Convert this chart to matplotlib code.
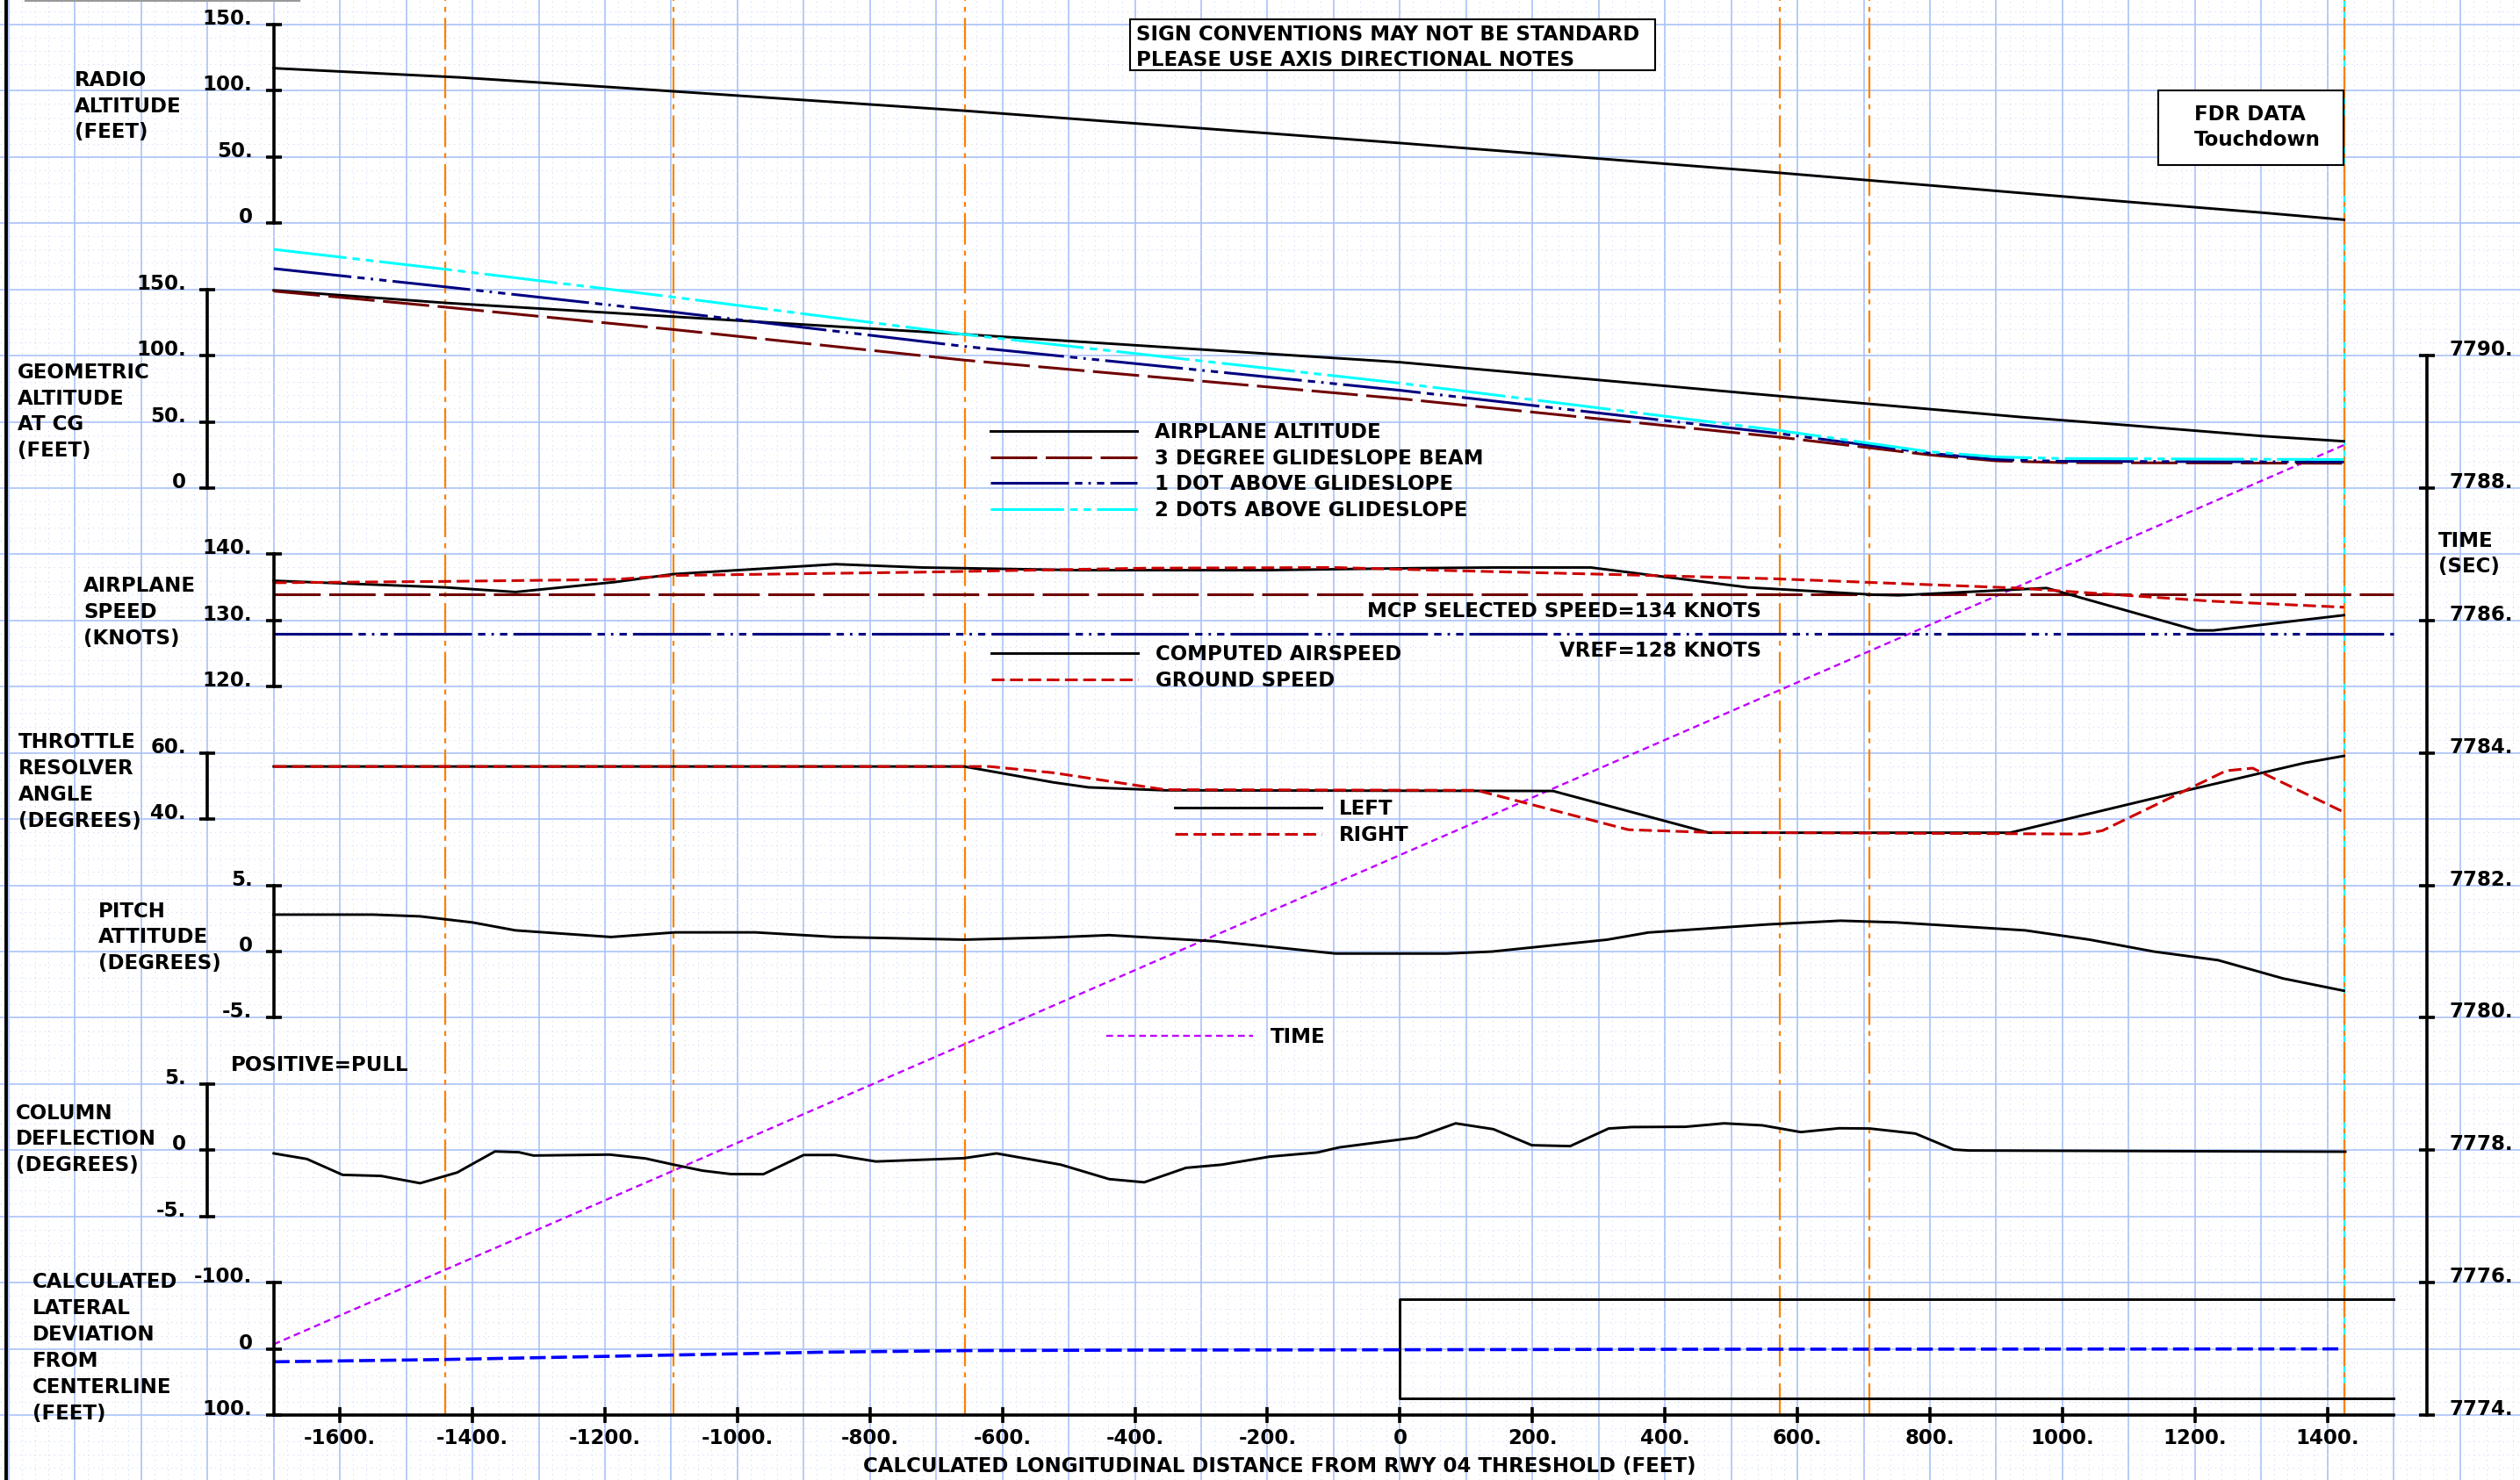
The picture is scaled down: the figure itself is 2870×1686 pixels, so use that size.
import matplotlib
matplotlib.use('Agg')
import matplotlib.pyplot as plt
from matplotlib.lines import Line2D
from matplotlib.patches import Rectangle
from matplotlib.ticker import MultipleLocator

W, H = 2870, 1686

# The whole sheet in data units: feet from the threshold (x), FDR seconds (y)
SHEET_FT = (-2113.2, 1690.7)
SHEET_SEC = (7773.02, 7795.37)

# Radio altitude (feet)
radio_ft = [-1700, -1417, -1185, -655, 0, 537, 935, 1099, 1300, 1425]
radio_alt = [117.0, 110.0, 102.5, 84.8, 60.5, 39.5, 22.9, 16.1, 8.0, 2.6]

# Geometric altitude at CG (feet)
geo_ft = [-1700, -1441, -1185, -655, 0, 537, 935, 1099, 1300, 1425]
airplane_alt = [149.3, 139.8, 132.1, 116.0, 95.0, 71.0, 53.7, 47.4, 39.3, 35.3]
beam_ft = [-1700, -1441, -1097, -658, 0, 573, 798, 900, 1000, 1425]
glideslope = [148.7, 136.6, 119.7, 96.6, 67.5, 38.4, 25.1, 20.5, 19.2, 18.7]
one_dot = [165.7, 151.9, 132.9, 107.0, 73.8, 41.1, 26.4, 21.5, 20.2, 19.7]
two_dots = [180.2, 165.2, 144.2, 116.0, 79.2, 43.4, 27.5, 23.5, 22.3, 21.5]

# Airplane speed (knots)
cas_ft = [-1700, -1441, -1335, -1185, -1097, -852, -721, -485, -201, 22, 140,
          288, 525, 714, 753, 976, 1203, 1228, 1425]
cas_kt = [136.0, 135.0, 134.3, 135.8, 137.0, 138.5, 138.0, 137.6, 137.6, 137.9,
          138.0, 138.0, 135.0, 133.9, 133.8, 134.9, 128.5, 128.5, 130.8]
gnd_ft = [-1700, -1441, -1185, -1097, -721, -383, -100, 90, 339, 565, 932, 1228, 1425]
gnd_kt = [135.7, 135.9, 136.2, 136.8, 137.3, 137.9, 138.0, 137.5, 136.9, 136.3,
          134.9, 132.9, 132.0]
ref_ft = [-1700, 1500]
mcp_speed = 134
vref = 128

# Throttle resolver angle (degrees)
left_ft = [-1700, -658, -523, -470, -355, 231, 466, 921, 1188, 1366, 1425]
left_tra = [55.9, 55.9, 51.1, 49.6, 48.7, 48.5, 35.9, 35.9, 48.7, 57.0, 59.1]
right_ft = [-1700, -620, -523, -355, 116, 345, 466, 1030, 1060, 1247, 1287, 1425]
right_tra = [55.9, 55.9, 54.0, 48.9, 48.7, 36.8, 36.0, 35.5, 36.5, 54.6, 55.4, 42.1]

# Pitch attitude (degrees)
pitch_ft = [-1700, -1550, -1479, -1400, -1335, -1191, -1094, -973, -852, -658,
            -523, -439, -280, -203, -97, 71, 139, 313, 375, 555,
            665, 750, 944, 1041, 1138, 1235, 1333, 1425]
pitch = [2.79, 2.79, 2.66, 2.2, 1.6, 1.1, 1.45, 1.45, 1.1, 0.9,
         1.07, 1.24, 0.78, 0.40, -0.15, -0.15, 0.0, 0.9, 1.44, 2.05,
         2.33, 2.2, 1.6, 0.9, 0.0, -0.65, -2.03, -2.96]

# Column deflection (degrees, positive = pull)
col_ft = [-1700, -1650, -1596, -1538, -1479, -1423, -1366, -1330, -1308, -1193,
          -1139, -1099, -1053, -1010, -961, -900, -852, -791, -658, -609,
          -512, -439, -386, -323, -269, -196, -125, -91, 25, 84,
          141, 199, 257, 315, 350, 431, 489, 547, 605, 663,
          709, 778, 836, 859, 1427]
column = [-0.24, -0.66, -1.86, -1.94, -2.49, -1.68, -0.09, -0.15, -0.40, -0.33,
          -0.62, -1.06, -1.54, -1.80, -1.81, -0.36, -0.36, -0.85, -0.60, -0.24,
          -1.09, -2.18, -2.42, -1.33, -1.09, -0.48, -0.17, 0.22, 0.97, 2.03,
          1.59, 0.38, 0.31, 1.64, 1.75, 1.77, 2.03, 1.88, 1.37, 1.66,
          1.64, 1.26, 0.05, -0.02, -0.11]

# Lateral deviation from centerline (feet) and runway edges
lat_ft = [-1700, -1440, -1099, -867, -653, -402, -2, 405, 1000, 1422]
lat_dev = [19.5, 16.0, 9.3, 4.9, 2.6, 1.8, 1.3, 0.6, 0.3, 0.0]
rwy_ft = [1500, 0, 0, 1500]
rwy_edge = [-75, -75, 75, 75]

# FDR time along the track
time_ft = [-1700, 1425]
time_sec = [7775.07, 7788.65]

# Event markers
event_ft = [-1441, -1097, -656, 573, 709]
touchdown_ft = 1426

x_ticks = list(range(-1600, 1401, 200))
time_ticks = list(range(7774, 7791, 2))

DARK_RED = '#700000'
NAVY = '#000080'
CYAN = '#00ffff'
RED = '#cc0000'
ORANGE = '#ff8000'
PURPLE = '#c000ff'

LONG_DASH = (0, (38, 7))
ONE_DOT = (0, (64, 5, 6, 5, 2, 5, 6, 5))
TWO_DOTS = (0, (60, 5, 6, 5, 6, 5))
SHORT_DASH = (0, (10.5, 4.5))
SOLID_LW = 2.1
DASH_LW = 2.2

plt.rcParams['font.family'] = ['DejaVu Sans']
plt.rcParams['font.weight'] = 'bold'
plt.rcParams['font.size'] = 16.5
plt.rcParams['lines.scale_dashes'] = False

fig = plt.figure(figsize=(W / 100, H / 100), dpi=100)
fig.patch.set_facecolor('white')


def sheet_axes(z):
    ax = fig.add_axes([0, 0, 1, 1], zorder=z)
    ax.patch.set_visible(False)
    ax.set_xlim(*SHEET_FT)
    ax.set_xticks([])
    for s in ax.spines.values():
        s.set_visible(False)
    return ax


def tick_text(v):
    return '0' if v == 0 else f'{v:g}.'


def panel_axes(z, vals, secs, ticks, spine_ft=-1700):
    ax = sheet_axes(z)
    (v0, v1), (t0, t1) = vals, secs
    k = (t1 - t0) / (v1 - v0)
    ax.set_ylim(v0 + (SHEET_SEC[0] - t0) / k, v0 + (SHEET_SEC[1] - t0) / k)
    left = ax.spines['left']
    left.set_visible(True)
    left.set_position(('data', spine_ft))
    left.set_bounds(min(v0, v1), max(v0, v1))
    left.set_linewidth(2.6)
    ax.set_yticks(ticks)
    ax.set_yticklabels([tick_text(t) for t in ticks])
    ax.tick_params(axis='y', direction='inout', length=13, width=2.6, pad=11)
    plt.setp(ax.get_yticklabels(), va='baseline')
    return ax


def put(x, y, s, **kw):
    kw.setdefault('linespacing', 1.38)
    fig.text(x / W, 1 - y / H, s, **kw)


def legend_at(ax, x, y):
    ax.legend(loc='upper left', bbox_to_anchor=(x / W, 1 - y / H), frameon=False,
              borderpad=0, borderaxespad=0, handlelength=7.3, handletextpad=0.85,
              labelspacing=0.29)


# background grid
grid_ax = sheet_axes(0)
grid_ax.set_ylim(*SHEET_SEC)
grid_ax.xaxis.set_major_locator(MultipleLocator(100))
grid_ax.xaxis.set_minor_locator(MultipleLocator(20))
grid_ax.yaxis.set_major_locator(MultipleLocator(1))
grid_ax.yaxis.set_minor_locator(MultipleLocator(0.2))
grid_ax.grid(which='minor', color='#d3def8', lw=0.7, ls=(0, (1, 3)))
grid_ax.grid(which='major', color='#aac2f8', lw=1.2)
grid_ax.tick_params(which='both', length=0, labelbottom=False, labelleft=False)

# time scale, event lines and time trace
time_ax = sheet_axes(1)
time_ax.set_ylim(*SHEET_SEC)
right = time_ax.spines['right']
right.set_visible(True)
right.set_position(('data', 1550))
right.set_bounds(time_ticks[0], time_ticks[-1])
right.set_linewidth(2.6)
time_ax.yaxis.tick_right()
time_ax.set_yticks(time_ticks)
time_ax.set_yticklabels([f'{t}.' for t in time_ticks])
time_ax.tick_params(axis='y', direction='inout', length=13, width=2.6, pad=12)
plt.setp(time_ax.get_yticklabels(), va='baseline')
time_ax.vlines(touchdown_ft, time_ticks[0], SHEET_SEC[1], color=CYAN, lw=1.6)
time_ax.vlines(event_ft + [touchdown_ft], time_ticks[0], SHEET_SEC[1],
               color=ORANGE, lw=1.6, linestyles=[(0, (26, 5, 4, 5))])
time_ax.plot(time_ft, time_sec, color=PURPLE, lw=1.7, ls=(0, (5.5, 3.5)), label='TIME')
legend_at(time_ax, 1260, 1170)

# radio altitude
rad_ax = panel_axes(2, (0, 150), (7792, 7795), [0, 50, 100, 150])
rad_ax.plot(radio_ft, radio_alt, color='black', lw=SOLID_LW)

# geometric altitude and glideslope
geo_ax = panel_axes(3, (0, 150), (7788, 7791), [0, 50, 100, 150], spine_ft=-1800)
geo_ax.plot(geo_ft, airplane_alt, color='black', lw=SOLID_LW, label='AIRPLANE ALTITUDE')
geo_ax.plot(beam_ft, glideslope, color=DARK_RED, lw=DASH_LW, ls=LONG_DASH,
            label='3 DEGREE GLIDESLOPE BEAM')
geo_ax.plot(beam_ft, one_dot, color=NAVY, lw=DASH_LW, ls=ONE_DOT, label='1 DOT ABOVE GLIDESLOPE')
geo_ax.plot(beam_ft, two_dots, color=CYAN, lw=DASH_LW, ls=TWO_DOTS, label='2 DOTS ABOVE GLIDESLOPE')
legend_at(geo_ax, 1128, 481)

# airplane speed
spd_ax = panel_axes(4, (120, 140), (7785, 7787), [120, 130, 140])
spd_ax.plot(ref_ft, [mcp_speed] * 2, color=DARK_RED, lw=DASH_LW, ls=LONG_DASH)
spd_ax.plot(ref_ft, [vref] * 2, color=NAVY, lw=DASH_LW, ls=ONE_DOT)
spd_ax.plot(cas_ft, cas_kt, color='black', lw=SOLID_LW, label='COMPUTED AIRSPEED')
spd_ax.plot(gnd_ft, gnd_kt, color=RED, lw=DASH_LW, ls=SHORT_DASH, label='GROUND SPEED')
legend_at(spd_ax, 1129, 734)
put(2006, 697, f'MCP SELECTED SPEED={mcp_speed} KNOTS', ha='right', va='center')
put(2006, 742, f'VREF={vref} KNOTS', ha='right', va='center')

# throttle resolver angle
thr_ax = panel_axes(5, (40, 60), (7783, 7784), [40, 60], spine_ft=-1800)
thr_ax.plot(left_ft, left_tra, color='black', lw=SOLID_LW, label='LEFT')
thr_ax.plot(right_ft, right_tra, color=RED, lw=DASH_LW, ls=SHORT_DASH, label='RIGHT')
legend_at(thr_ax, 1338, 910)

# pitch attitude
pit_ax = panel_axes(6, (-5, 5), (7780, 7782), [-5, 0, 5])
pit_ax.plot(pitch_ft, pitch, color='black', lw=SOLID_LW)

# column deflection
col_ax = panel_axes(7, (-5, 5), (7777, 7779), [-5, 0, 5], spine_ft=-1800)
col_ax.plot(col_ft, column, color='black', lw=SOLID_LW)

# lateral deviation, with the longitudinal distance axis along its bottom
lat_ax = panel_axes(8, (100, -100), (7774, 7776), [-100, 0, 100])
lat_ax.plot(rwy_ft, rwy_edge, color='black', lw=SOLID_LW)
lat_ax.plot(lat_ft, lat_dev, color='#0000ff', lw=2.6, ls=(0, (13, 4.5)))
bottom = lat_ax.spines['bottom']
bottom.set_visible(True)
bottom.set_position(('data', 100))
bottom.set_bounds(-1700, 1500)
bottom.set_linewidth(2.6)
lat_ax.set_xticks(x_ticks)
lat_ax.set_xticklabels([tick_text(v) for v in x_ticks])
lat_ax.tick_params(axis='x', direction='inout', length=13, width=2.6, pad=4.5)

# axis titles
put(85, 121, 'RADIO\nALTITUDE\n(FEET)', va='center')
put(20, 469, 'GEOMETRIC\nALTITUDE\nAT CG\n(FEET)', va='center')
put(95, 697.5, 'AIRPLANE\nSPEED\n(KNOTS)', va='center')
put(21, 890.5, 'THROTTLE\nRESOLVER\nANGLE\n(DEGREES)', va='center')
put(112, 1068, 'PITCH\nATTITUDE\n(DEGREES)', va='center')
put(18, 1298, 'COLUMN\nDEFLECTION\n(DEGREES)', va='center')
put(263, 1213, 'POSITIVE=PULL', va='center')
put(37, 1535.5, 'CALCULATED\nLATERAL\nDEVIATION\nFROM\nCENTERLINE\n(FEET)', va='center')
put(2777, 631, 'TIME\n(SEC)', va='center')
put(1457, 1670, 'CALCULATED LONGITUDINAL DISTANCE FROM RWY 04 THRESHOLD (FEET)',
    ha='center', va='center')

# note boxes
for x0, y0, x1, y1 in [(1287, 22, 1885, 80), (2458, 103, 2669, 188)]:
    fig.add_artist(Rectangle((x0 / W, 1 - y1 / H), (x1 - x0) / W, (y1 - y0) / H,
                             transform=fig.transFigure, facecolor='white',
                             edgecolor='black', lw=1.5, zorder=20))
put(1294, 54, 'SIGN CONVENTIONS MAY NOT BE STANDARD\nPLEASE USE AXIS DIRECTIONAL NOTES',
    va='center', zorder=21)
put(2499, 145, 'FDR DATA\nTouchdown', va='center', zorder=21)

# sheet border remnants
fig.add_artist(Line2D([6.7 / W] * 2, [0, 1], color='black', lw=2.8, transform=fig.transFigure))
fig.add_artist(Line2D([29 / W, 341 / W], [1 - 1 / H] * 2, color='#999999', lw=1.5,
                      transform=fig.transFigure))

fig.savefig('out.png', dpi=100, facecolor='white')
